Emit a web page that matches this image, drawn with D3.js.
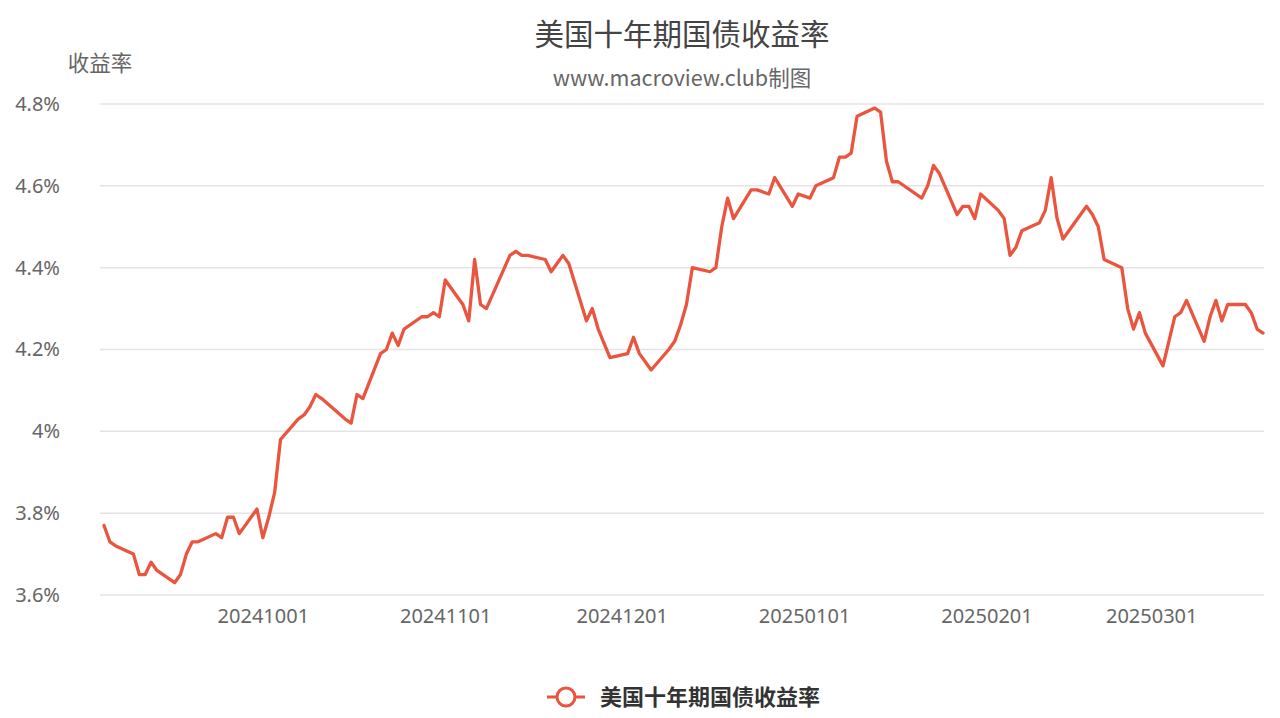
<!DOCTYPE html>
<html>
<head>
<meta charset="utf-8">
<script src="https://cdn.jsdelivr.net/npm/d3@7/dist/d3.min.js"></script>
<style>
  html, body { margin: 0; padding: 0; background: #fff; }
  svg { display: block; font-family: "Noto Sans CJK SC", "Noto Sans", sans-serif; }
</style>
</head>
<body>
<svg id="chart" width="1280" height="718"></svg>
<script>
// US 10-year Treasury yield, daily close (%)
const dates = [
  "2024-09-04","2024-09-05","2024-09-06","2024-09-09","2024-09-10","2024-09-11","2024-09-12","2024-09-13",
  "2024-09-16","2024-09-17","2024-09-18","2024-09-19","2024-09-20","2024-09-23","2024-09-24","2024-09-25",
  "2024-09-26","2024-09-27","2024-09-30",
  "2024-10-01","2024-10-02","2024-10-03","2024-10-04","2024-10-07","2024-10-08","2024-10-09","2024-10-10",
  "2024-10-11","2024-10-15","2024-10-16","2024-10-17","2024-10-18","2024-10-21","2024-10-22","2024-10-23",
  "2024-10-24","2024-10-25","2024-10-28","2024-10-29","2024-10-30","2024-10-31",
  "2024-11-01","2024-11-04","2024-11-05","2024-11-06","2024-11-07","2024-11-08","2024-11-12","2024-11-13",
  "2024-11-14","2024-11-15","2024-11-18","2024-11-19","2024-11-20","2024-11-21","2024-11-22","2024-11-25",
  "2024-11-26","2024-11-27","2024-11-29",
  "2024-12-02","2024-12-03","2024-12-04","2024-12-05","2024-12-06","2024-12-09","2024-12-10","2024-12-11",
  "2024-12-12","2024-12-13","2024-12-16","2024-12-17","2024-12-18","2024-12-19","2024-12-20","2024-12-23",
  "2024-12-24","2024-12-26","2024-12-27","2024-12-30","2024-12-31",
  "2025-01-02","2025-01-03","2025-01-06","2025-01-07","2025-01-08","2025-01-09","2025-01-10","2025-01-13",
  "2025-01-14","2025-01-15","2025-01-16","2025-01-17","2025-01-21","2025-01-22","2025-01-23","2025-01-24",
  "2025-01-27","2025-01-28","2025-01-29","2025-01-30","2025-01-31",
  "2025-02-03","2025-02-04","2025-02-05","2025-02-06","2025-02-07","2025-02-10","2025-02-11","2025-02-12",
  "2025-02-13","2025-02-14","2025-02-18","2025-02-19","2025-02-20","2025-02-21","2025-02-24","2025-02-25",
  "2025-02-26","2025-02-27","2025-02-28",
  "2025-03-03","2025-03-04","2025-03-05","2025-03-06","2025-03-07","2025-03-10","2025-03-11","2025-03-12",
  "2025-03-13","2025-03-14","2025-03-17","2025-03-18","2025-03-19","2025-03-20"
];
const yields = [
  3.77,3.73,3.72,3.70,3.65,3.65,3.68,3.66,
  3.63,3.65,3.70,3.73,3.73,3.75,3.74,3.79,
  3.79,3.75,3.81,
  3.74,3.79,3.85,3.98,4.03,4.04,4.06,4.09,
  4.08,4.03,4.02,4.09,4.08,4.19,4.20,4.24,
  4.21,4.25,4.28,4.28,4.29,4.28,
  4.37,4.31,4.27,4.42,4.31,4.30,4.43,4.44,
  4.43,4.43,4.42,4.39,4.41,4.43,4.41,4.27,
  4.30,4.25,4.18,
  4.19,4.23,4.19,4.17,4.15,4.20,4.22,4.26,
  4.31,4.40,4.39,4.40,4.50,4.57,4.52,4.59,
  4.59,4.58,4.62,4.55,4.58,
  4.57,4.60,4.62,4.67,4.67,4.68,4.77,4.79,
  4.78,4.66,4.61,4.61,4.57,4.60,4.65,4.63,
  4.53,4.55,4.55,4.52,4.58,
  4.54,4.52,4.43,4.45,4.49,4.51,4.54,4.62,
  4.52,4.47,4.55,4.53,4.50,4.42,4.40,4.30,
  4.25,4.29,4.24,
  4.16,4.22,4.28,4.29,4.32,4.22,4.28,4.32,
  4.27,4.31,4.31,4.29,4.25,4.24
];
const xTickLabels = ["20241001","20241101","20241201","20250101","20250201","20250301"];
const yTickValues = [3.6, 3.8, 4.0, 4.2, 4.4, 4.6, 4.8];

const seriesName = "美国十年期国债收益率";
const titleText = "美国十年期国债收益率";
const subtitleText = "www.macroview.club制图";
const yAxisName = "收益率";

const lineColor = "#e9553f";
const gridColor = "#e4e4e4";
const labelColor = "#666";

const parse = d3.utcParse("%Y-%m-%d");
const parseTick = d3.utcParse("%Y%m%d");
const points = dates.map((d, i) => ({ date: parse(d), value: yields[i] }));

const svg = d3.select("#chart");

// plot area
const gridLeft = 100, gridRight = 1264;
const x = d3.scaleUtc()
  .domain(d3.extent(points, d => d.date))
  .range([104, 1263]);
const y = d3.scaleLinear()
  .domain([3.6, 4.8])
  .range([595, 104]);

// horizontal grid lines
svg.append("g")
  .selectAll("line")
  .data(yTickValues)
  .join("line")
  .attr("x1", gridLeft).attr("x2", gridRight)
  .attr("y1", d => y(d)).attr("y2", d => y(d))
  .attr("stroke", gridColor)
  .attr("stroke-width", 1.5);

// y axis labels
const yAxis = d3.axisLeft(y)
  .tickValues(yTickValues)
  .tickSize(0)
  .tickPadding(0)
  .tickFormat(d => (+d.toFixed(1)) + "%");
const yg = svg.append("g")
  .attr("transform", `translate(60,0)`)
  .call(yAxis);
yg.select(".domain").remove();
yg.selectAll("text")
  .attr("fill", labelColor)
  .style("font-size", "20px")
  .style("font-family", "'Noto Sans', 'Noto Sans CJK SC', sans-serif");

// x axis labels
const xAxis = d3.axisBottom(x)
  .tickValues(xTickLabels.map(parseTick))
  .tickSize(0)
  .tickPadding(0)
  .tickFormat(d3.utcFormat("%Y%m%d"));
const xg = svg.append("g")
  .attr("transform", `translate(0,607)`)
  .call(xAxis);
xg.select(".domain").remove();
xg.selectAll("text")
  .attr("fill", labelColor)
  .attr("dy", "0.8em")
  .style("font-size", "20px")
  .style("font-family", "'Noto Sans', 'Noto Sans CJK SC', sans-serif");

// yield line
const line = d3.line()
  .x(d => x(d.date))
  .y(d => y(d.value));
svg.append("path")
  .datum(points)
  .attr("d", line)
  .attr("fill", "none")
  .attr("stroke", lineColor)
  .attr("stroke-width", 3.3)
  .attr("stroke-linejoin", "round")
  .attr("stroke-linecap", "round");

// titles
const centerX = (gridLeft + gridRight) / 2;
svg.append("text")
  .attr("x", centerX).attr("y", 45)
  .attr("text-anchor", "middle")
  .attr("fill", "#444")
  .style("font-size", "29.5px")
  .text(titleText);
svg.append("text")
  .attr("x", centerX).attr("y", 86)
  .attr("text-anchor", "middle")
  .attr("fill", labelColor)
  .style("font-size", "21.5px")
  .text(subtitleText);

// y axis name
svg.append("text")
  .attr("x", 100).attr("y", 71)
  .attr("text-anchor", "middle")
  .attr("fill", labelColor)
  .style("font-size", "21.5px")
  .text(yAxisName);

// legend
const legend = svg.append("g").attr("transform", "translate(547,697)");
legend.append("line")
  .attr("x1", 0).attr("x2", 38)
  .attr("y1", 0).attr("y2", 0)
  .attr("stroke", lineColor)
  .attr("stroke-width", 3);
legend.append("circle")
  .attr("cx", 19).attr("cy", 0).attr("r", 9)
  .attr("fill", "#fff")
  .attr("stroke", lineColor)
  .attr("stroke-width", 3);
legend.append("text")
  .attr("x", 53).attr("y", 0)
  .attr("dy", "0.35em")
  .attr("fill", "#333")
  .style("font-size", "22px")
  .style("font-weight", "bold")
  .text(seriesName);
</script>
</body>
</html>
